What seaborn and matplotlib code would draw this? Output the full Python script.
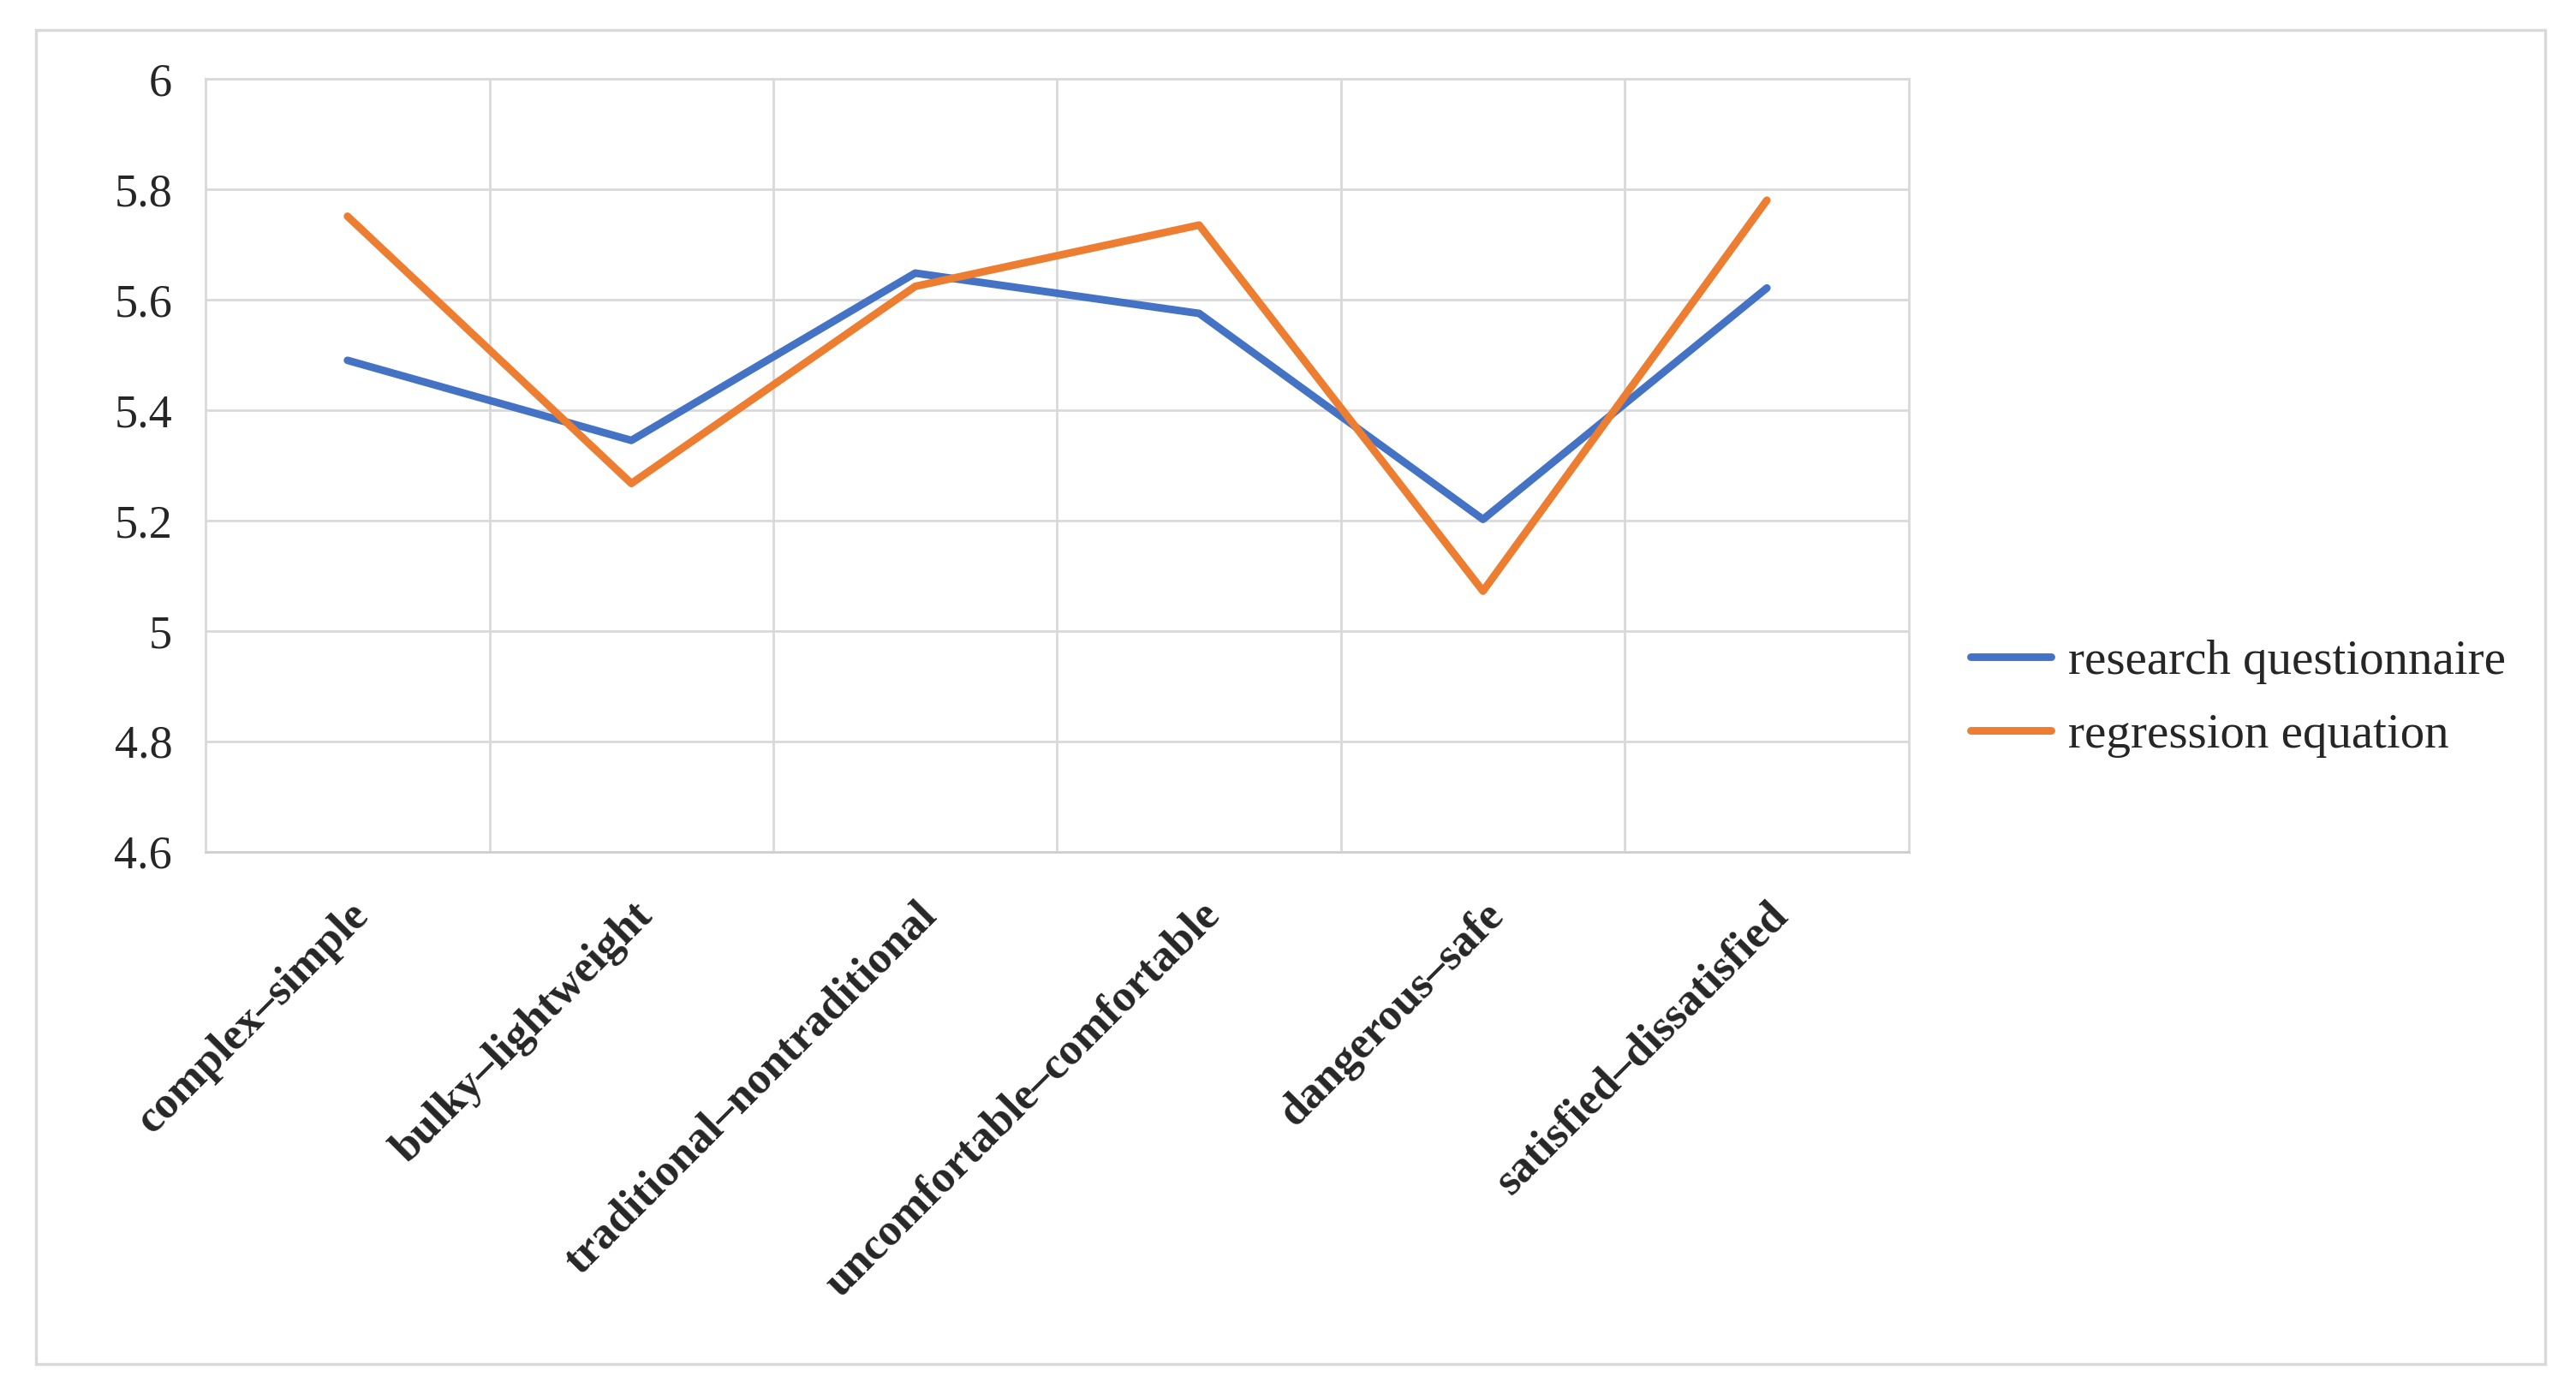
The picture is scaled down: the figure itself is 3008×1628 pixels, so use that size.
import matplotlib
matplotlib.use("Agg")
import matplotlib.pyplot as plt
import seaborn as sns
import pandas as pd
from matplotlib.patches import Rectangle

categorias = ["complex\u2013simple", "bulky\u2013lightweight", "traditional\u2013nontraditional",
              "uncomfortable\u2013comfortable", "dangerous\u2013safe", "satisfied\u2013dissatisfied"]
cuestionario = [5.49, 5.345, 5.648, 5.575, 5.202, 5.621]
regresion = [5.751, 5.267, 5.624, 5.735, 5.072, 5.78]
series = ["research questionnaire", "regression equation"]
yticks = [4.6, 4.8, 5.0, 5.2, 5.4, 5.6, 5.8, 6.0]
ytick_labels = ["4.6", "4.8", "5", "5.2", "5.4", "5.6", "5.8", "6"]

df = pd.DataFrame({
    "categoria": categorias * 2,
    "valor": cuestionario + regresion,
    "serie": [series[0]] * len(categorias) + [series[1]] * len(categorias),
})

sns.set_theme(style="white")
plt.rcParams["font.family"] = ["Liberation Serif", "DejaVu Serif"]

fig = plt.figure(figsize=(15.04, 8.14), dpi=200)
ax = fig.add_axes([0.0798, 0.389, 0.741 - 0.0798, 0.9435 - 0.389])

sns.lineplot(data=df, x="categoria", y="valor", hue="serie", sort=False,
             palette=["#4472C4", "#ED7D31"], linewidth=3.2, ax=ax)

ax.set_xlim(-0.5, len(categorias) - 0.5)
ax.set_ylim(4.6, 6.0)
ax.set_yticks(yticks)
ax.set_yticklabels(ytick_labels, fontsize=19.5)
ax.set_xticks(range(len(categorias)))
ax.set_xticklabels(categorias, rotation=45, ha="right", rotation_mode="anchor",
                   fontsize=19, fontweight="bold")
ax.tick_params(axis="both", length=0)
ax.tick_params(axis="y", pad=14)
ax.tick_params(axis="x", pad=18)
ax.set_xlabel("")
ax.set_ylabel("")

# rejilla estilo Excel: horizontales en ticks, verticales entre categorias
for y in yticks:
    ax.axhline(y, color="#d9d9d9", linewidth=1.0, zorder=0)
for x in range(len(categorias) - 1):
    ax.axvline(x + 0.5, color="#d9d9d9", linewidth=1.0, zorder=0)
for s in ax.spines.values():
    s.set_color("#d9d9d9")
    s.set_linewidth(1.0)
ax.spines["bottom"].set_color("#cfcfcf")

handles, labels = ax.get_legend_handles_labels()
ax.legend(handles, labels, loc="center left", bbox_to_anchor=(0.765, 0.499),
          bbox_transform=fig.transFigure, frameon=False, fontsize=20.5,
          handlelength=1.65, handletextpad=0.35, labelspacing=0.6,
          borderpad=0, borderaxespad=0)

# marco exterior
fig.patches.append(Rectangle((42 / 3008, 1 - 1593 / 1628), (2972 - 42) / 3008,
                             (1593 - 35) / 1628, transform=fig.transFigure,
                             fill=False, edgecolor="#d9d9d9", linewidth=1.2))

fig.savefig("out.png", dpi=200)
